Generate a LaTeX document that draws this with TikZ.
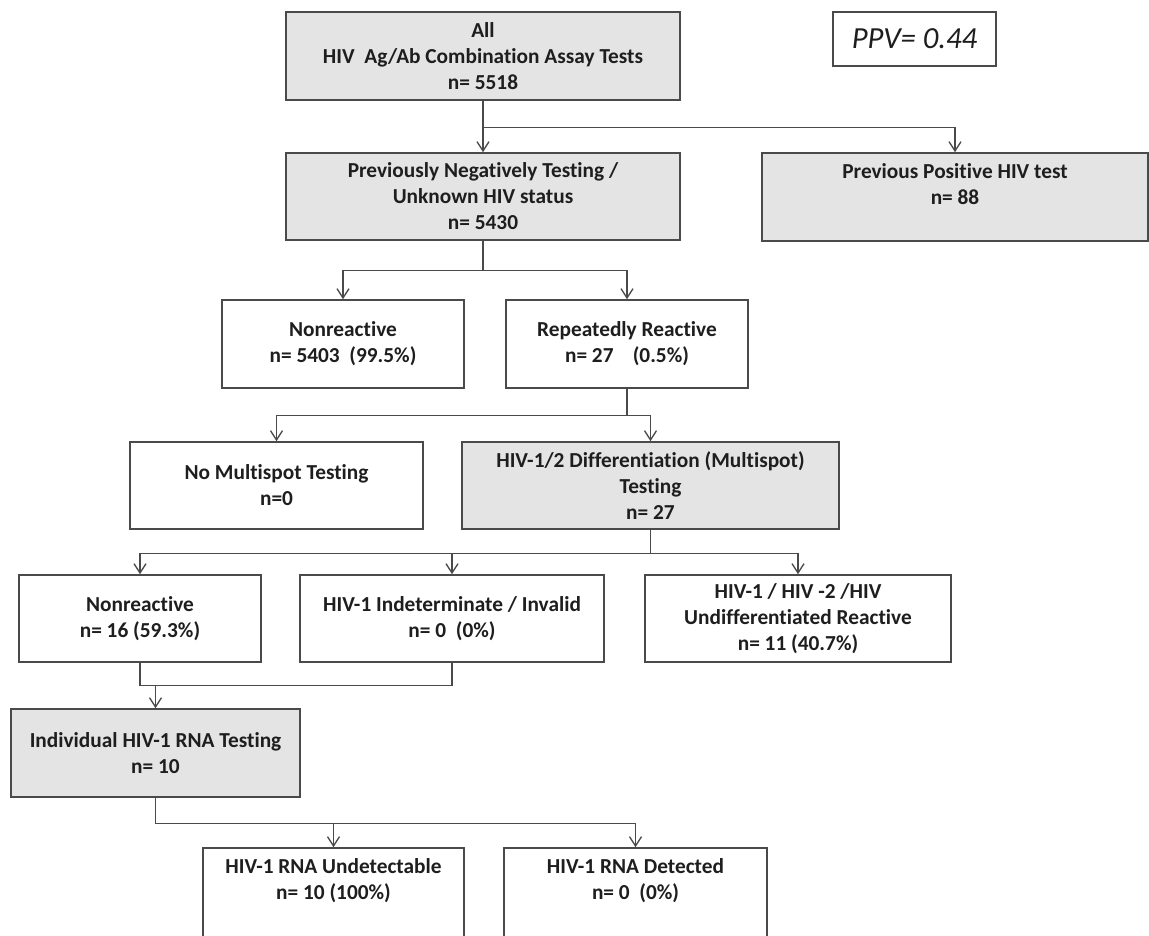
\documentclass[tikz,border=0pt]{standalone}
\usepackage{fontspec}
\setmainfont{Carlito}[Ligatures=NoCommon]
\usetikzlibrary{arrows.meta}

\definecolor{boxline}{HTML}{4A4A4A}
\definecolor{boxfill}{HTML}{E4E4E4}
\definecolor{inktext}{HTML}{1E1E1E}

\tikzset{every picture/.style={line width=0.75pt}}
\tikzset{
  box/.style={draw=boxline, line width=1.2pt, fill=white, text=inktext, align=center, inner sep=0pt,
    font=\fontsize{16}{19.5}\selectfont\bfseries},
  greybox/.style={box, fill=boxfill},
  ppvbox/.style={box, font=\fontsize{23}{27}\selectfont\itshape},
  sz/.style 2 args={minimum width=#1*0.75pt, minimum height=#2*0.75pt},
  conn/.style={draw=boxline, line width=1pt},
  arrconn/.style={conn, -{Straight Barb[length=7pt,width=9pt]}}
}

\begin{document}
\begin{tikzpicture}[x=0.75pt,y=0.75pt,yscale=-1,xscale=1]
%set diagram size to 1149 x 935
\useasboundingbox (0,0) rectangle (1149,935);

%Shape: Rectangle [all tests]
\node[greybox, sz={394}{88}] (all) at (483,56) {All\\HIV\ \ Ag/Ab Combination Assay Tests\\n= 5518};
%Shape: Rectangle [ppv]
\node[ppvbox, sz={163}{54}] (ppv) at (914.5,39) {PPV= 0.44};

%Shape: Rectangle [previous status]
\node[greybox, sz={394}{87}] (prevneg) at (483,196.5) {Previously Negatively Testing /\\Unknown HIV status\\n= 5430};
\node[greybox, sz={386}{88}] (prevpos) at (955,197) {Previous Positive HIV test\\n= 88\\\mbox{}};

%Shape: Rectangle [screening result]
\node[box, sz={242}{88}] (nonreact) at (343,344) {Nonreactive\\n= 5403\ \ (99.5\%)};
\node[box, sz={242}{88}] (repreact) at (627,344) {Repeatedly Reactive\\n= 27\hspace{0.9em}(0.5\%)};

%Shape: Rectangle [multispot]
\node[box, sz={293}{87}] (nomulti) at (276.5,485.5) {No Multispot Testing\\n=0};
\node[greybox, sz={377}{87}] (diff) at (650.5,485.5) {HIV-1/2 Differentiation (Multispot)\\Testing\\n= 27};

%Shape: Rectangle [multispot result]
\node[box, sz={242}{87}] (nonreact2) at (140,618.5) {Nonreactive\\n= 16 (59.3\%)};
\node[box, sz={304}{87}] (indet) at (452,618.5) {HIV-1 Indeterminate / Invalid\\n= 0\ \ (0\%)};
\node[box, sz={306}{87}] (undiff) at (798,618.5) {HIV-1 / HIV -2 /HIV\\Undifferentiated Reactive\\n= 11 (40.7\%)};

%Shape: Rectangle [rna]
\node[greybox, sz={289}{88}] (indiv) at (155.5,753) {Individual HIV-1 RNA Testing\\n= 10};
\node[box, sz={261}{89}] (undet) at (333.5,892.5) {HIV-1 RNA Undetectable\\n= 10 (100\%)\\\mbox{}};
\node[box, sz={263}{89}] (det) at (635.5,892.5) {HIV-1 RNA Detected\\n= 0\ \ (0\%)\\\mbox{}};

% Connectors
\draw[arrconn] (all.south) -- (prevneg.north);
\draw[arrconn] (all.south) -- ++(0,27) -| (prevpos.north);

\draw[arrconn] (prevneg.south) -- ++(0,30) -| (nonreact.north);
\draw[arrconn] (prevneg.south) -- ++(0,30) -| (repreact.north);

\draw[arrconn] (repreact.south) -- ++(0,27) -| (nomulti.north);
\draw[arrconn] (repreact.south) -- ++(0,27) -| (diff.north);

\draw[arrconn] (diff.south) -- ++(0,24) -| (nonreact2.north);
\draw[arrconn] (diff.south) -- ++(0,24) -| (indet.north);
\draw[arrconn] (diff.south) -- ++(0,24) -| (undiff.north);

\draw[conn] (nonreact2.south) -- ++(0,23) coordinate (join) -| (indet.south);
\draw[arrconn] (join -| indiv.north) -- (indiv.north);

\draw[arrconn] (indiv.south) -- ++(0,26) -| (undet.north);
\draw[arrconn] (indiv.south) -- ++(0,26) -| (det.north);

\end{tikzpicture}
\end{document}
